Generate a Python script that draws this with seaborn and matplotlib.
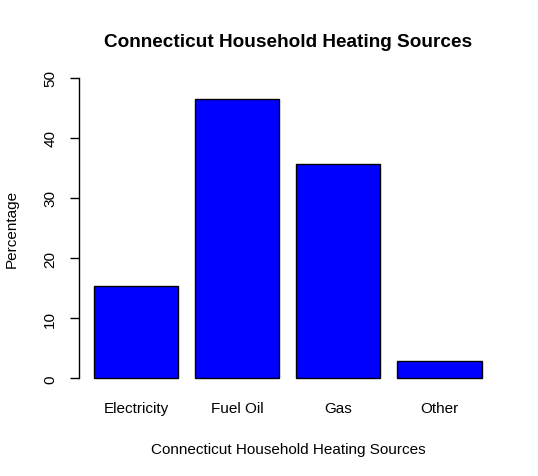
import matplotlib
matplotlib.use("Agg")
import matplotlib.pyplot as plt
import seaborn as sns
import pandas as pd

categories = ["Electricity", "Fuel Oil", "Gas", "Other"]
percentages = [15.3, 46.4, 35.6, 2.8]
yticks = [0, 10, 20, 30, 40, 50]

df = pd.DataFrame({"source": categories, "pct": percentages})

sns.set_style("white")
plt.rcParams["font.family"] = ["Liberation Sans", "DejaVu Sans"]
plt.rcParams["text.color"] = "black"
plt.rcParams["axes.labelcolor"] = "black"
plt.rcParams["xtick.color"] = "black"
plt.rcParams["ytick.color"] = "black"

W, H = 538, 477
fig = plt.figure(figsize=(W / 100, H / 100), dpi=100)
left, right, top, bottom = 78.8, 497.0, 66.7, 391.3
ax = fig.add_axes([left / W, 1 - bottom / H, (right - left) / W, (bottom - top) / H])

sns.barplot(data=df, x="source", y="pct", order=categories, color="#0000FF",
            saturation=1, width=1 / 1.2, edgecolor="black", linewidth=1.0, ax=ax)

ax.set_xlim(-0.57, 3.57)
ax.set_ylim(-2, 52)
for s in ["top", "right", "bottom"]:
    ax.spines[s].set_visible(False)
ax.spines["left"].set_bounds(0, 50)
ax.spines["left"].set_linewidth(1.0)
ax.spines["left"].set_color("black")

fs = 11.0
ax.set_yticks(yticks)
ax.set_yticklabels([str(v) for v in yticks], rotation=90, va="center", fontsize=fs)
ax.tick_params(axis="y", length=6.5, width=1.0, color="black", left=True, pad=9)
ax.tick_params(axis="x", length=0, pad=7.5, labelsize=fs)

ax.set_xlabel("Connecticut Household Heating Sources", fontsize=fs, labelpad=19.5)
ax.set_ylabel("Percentage", fontsize=fs)
ax.yaxis.set_label_coords((19 - left) / (right - left), 0.5)
ax.set_title("Connecticut Household Heating Sources", fontsize=13.7, fontweight="bold", pad=14.5)

fig.savefig("out.png", dpi=100)
